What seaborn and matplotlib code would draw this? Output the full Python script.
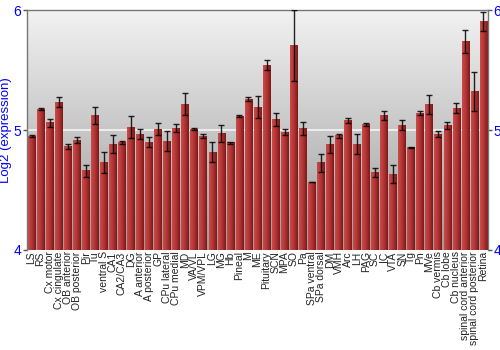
import numpy as np
import pandas as pd
import matplotlib
matplotlib.use("Agg")
import matplotlib.pyplot as plt
import seaborn as sns
from matplotlib.colors import LinearSegmentedColormap

regions = ["LS", "RS", "Cx motor", "Cx cingulate", "OB anterior", "OB posterior", "Pir", "Tu",
           "ventral S", "CA1", "CA2/CA3", "DG", "A anterior", "A posterior", "GP", "CPu lateral",
           "CPu medial", "MD", "VA/VL", "VPM/VPL", "LG", "MG", "Hb", "Pineal", "M", "ME",
           "Pituitary", "SCN", "MPA", "SO", "Pa", "SPa ventral", "SPa dorsal", "DM", "VMH", "Arc",
           "LH", "PAG", "SC", "IC", "VTA", "SN", "Tg", "Pn", "MVe", "Cb vermis", "Cb lobe",
           "Cb nucleus", "spinal cord anterior", "spinal cord posterior", "Retina"]
expression = [4.95, 5.175, 5.06, 5.233, 4.861, 4.917, 4.661, 5.122,
              4.73, 4.883, 4.897, 5.025, 4.967, 4.90, 5.008, 4.908,
              5.014, 5.217, 5.008, 4.95, 4.817, 4.969, 4.894, 5.114, 5.258, 5.192,
              5.542, 5.089, 4.983, 5.703, 5.011, 4.567, 4.728, 4.881, 4.953, 5.081,
              4.883, 5.044, 4.644, 5.122, 4.633, 5.042, 4.853, 5.142, 5.214, 4.967, 5.036,
              5.183, 5.742, 5.322, 5.908]
error = [0.005, 0.01, 0.035, 0.04, 0.02, 0.025, 0.05, 0.07,
         0.09, 0.075, 0.01, 0.094, 0.045, 0.04, 0.047, 0.086,
         0.033, 0.094, 0.01, 0.018, 0.086, 0.072, 0.01, 0.008, 0.02, 0.094,
         0.039, 0.057, 0.022, 0.296, 0.056, 0.003, 0.075, 0.07, 0.017, 0.02,
         0.083, 0.014, 0.039, 0.0375, 0.079, 0.04, 0.003, 0.02, 0.082, 0.024, 0.028,
         0.039, 0.096, 0.164, 0.078]
yticks = [4, 5, 6]

df = pd.DataFrame({"region": regions, "expr": expression, "err": error})

sns.set_style("white")
plt.rcParams['font.family'] = ['Liberation Sans', 'DejaVu Sans']

fig = plt.figure(figsize=(5, 3.5), dpi=100)
ax = fig.add_axes([0.054, 0.286, 0.922, 0.685])

YMIN, YMAX = 4, 6

# background gradient
bg = LinearSegmentedColormap.from_list("bg", ["#f2f2f2", "#9c9c9c"])
grad = np.linspace(0, 1, 256).reshape(-1, 1)
ax.imshow(grad, extent=[-0.5, len(regions) - 0.5, YMIN, YMAX], aspect="auto", cmap=bg,
          origin="upper", zorder=0)
ax.axhline(5, color="#f4f4f4", lw=1.2, zorder=1)

sns.barplot(data=df, x="region", y="expr", ax=ax, color="#b03030", width=0.84,
            errorbar=None, saturation=1, zorder=2, edgecolor="none")

# horizontal gradient on each bar
barcmap = LinearSegmentedColormap.from_list("bar", ["#cc4a4a", "#b23434", "#7e1818"])
hgrad = np.linspace(0, 1, 64).reshape(1, -1)
for p in list(ax.patches):
    x0, w = p.get_x(), p.get_width()
    top = p.get_y() + p.get_height()
    ax.imshow(hgrad, extent=[x0, x0 + w, YMIN, top], aspect="auto", cmap=barcmap,
              zorder=2.5)

ax.errorbar(np.arange(len(regions)), df["expr"], yerr=df["err"], fmt="none",
            ecolor="black", elinewidth=1, capsize=2.5, capthick=1, zorder=4, alpha=0.85)

ax.set_xlim(-0.5, len(regions) - 0.5)
ax.set_ylim(YMIN, YMAX)
ax.set_yticks(yticks)
ax.set_yticklabels([str(t) for t in yticks])
ax.tick_params(axis="y", which="both", left=True, right=True, labelleft=True,
               labelright=True, labelcolor="blue", labelsize=10, color="#555555",
               length=3, width=1, pad=1)
ax.tick_params(axis="x", labelrotation=90, labelsize=7.5, length=0, pad=1,
               labelcolor="#222222")
ax.set_xlabel("")
ax.set_ylabel("Log2 (expression)", color="blue", fontsize=9.5, labelpad=1)

for side in ["top", "left", "right"]:
    ax.spines[side].set_color("#777777")
    ax.spines[side].set_linewidth(1)
    ax.spines[side].set_visible(True)
ax.spines["bottom"].set_visible(False)

fig.savefig("out.png", dpi=100)
